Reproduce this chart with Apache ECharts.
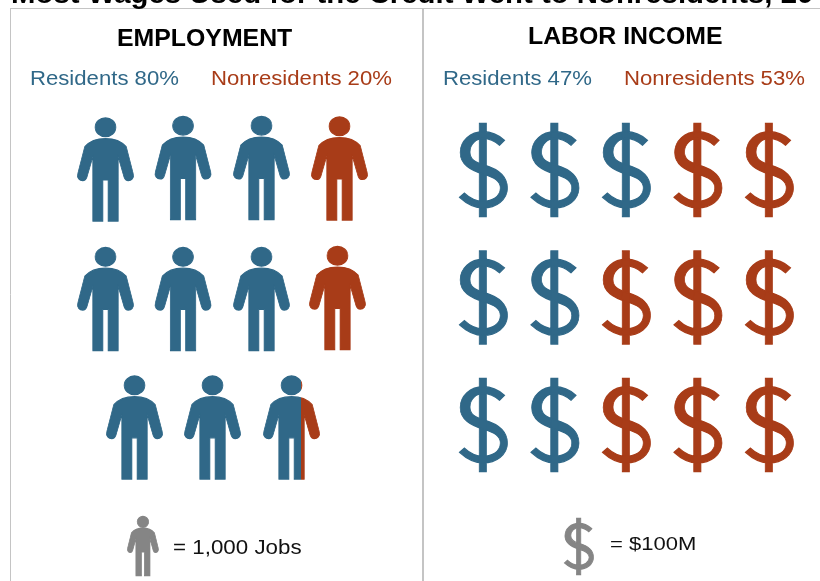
<!DOCTYPE html>
<html><head><meta charset="utf-8">
<style>html,body{margin:0;padding:0;background:#fff;overflow:hidden}#c{width:820px;height:581px}</style>
<script src="https://cdn.jsdelivr.net/npm/echarts@6/dist/echarts.min.js"></script>
</head><body><div id="c"></div>
<script>
// ---- values ----
const headline = 'Most Wages Used for the Credit Went to Nonresidents, 20';
const panelTitles = ['EMPLOYMENT', 'LABOR INCOME'];
const employmentLabels = ['Residents 80%', 'Nonresidents 20%'];
const incomeLabels = ['Residents 47%', 'Nonresidents 53%'];
const keyLabels = ['= 1,000 Jobs', '= $100M'];

// one person per 1,000 jobs: column, row, share of the icon that is nonresident
const peopleCols  = [0, 0.994, 2, 3,   0, 0.994, 2, 2.974,   0.372, 1.372, 2.385];
const peopleRows  = [0, -0.012, -0.012, -0.008,   1.008, 1.008, 1.008, 1,   2.008, 2.008, 2.008];
const peopleShare = [0, 0, 0, 1,   0, 0, 0, 1,   0, 0, 0.33];

// one dollar sign per $100M: column, row, share nonresident
const dollarCols  = [0, 1, 2, 3, 4,   0, 1, 2, 3, 4,   0, 1, 2, 3, 4];
const dollarRows  = [0, 0, 0, 0, 0,   1, 1, 1, 1, 1,   2, 2, 2, 2, 2];
const dollarShare = [0, 0, 0, 1, 1,   0, 0, 1, 1, 1,   0, 0, 1, 1, 1];

const personKey = [0.48, 2.93];
const dollarKey = [1.336, 2.953];

// ---- styling ----
const BLUE = '#306888', RED = '#a83c18', GRAY = '#858585', RULE = '#c4c4c4';
const FONT = '"Liberation Sans", Arial, sans-serif';

const PERSON = 'path://M104 66A32 28 0 1 1 168 66A32 28 0 1 1 104 66Z' +
  'M136 100C105 100 85 110 72 125L51 205C47 218 56 226 66 226C72 226 77 222 79 216L97 155L97 348L128 348L128 224L144 224L144 348L175 348L175 155L193 216C195 222 200 226 206 226C216 226 225 218 221 205L200 125C187 110 167 100 136 100Z';
const DOLLAR = 'path://M165 78C145 60 120 52 100 52C60 52 30 80 30 115C30 150 60 168 100 180C135 190 152 200 152 222C152 250 125 262 100 262C78 262 60 253 43 237L28 250C50 270 75 282 100 282C140 282 174 257 174 222C174 185 145 165 105 153C75 145 60 135 60 113C60 88 80 72 100 72C120 72 135 80 150 93Z' +
  'M110 27L88 27L88 308L110 308Z';

function fillFor(share) {
  if (share === 0) return BLUE;
  if (share === 1) return RED;
  return { type: 'linear', x: 0, y: 0, x2: 1, y2: 0, colorStops: [
    { offset: 0, color: BLUE }, { offset: 1 - share, color: BLUE },
    { offset: 1 - share, color: RED }, { offset: 1, color: RED } ] };
}
function icons(cols, rows, shares, idx, symbol, size) {
  return { type: 'scatter', xAxisIndex: idx, yAxisIndex: idx, symbol, symbolSize: size, silent: true, animation: false,
    data: cols.map((c, i) => ({ value: [c, rows[i]], itemStyle: { color: fillFor(shares[i]), borderColor: fillFor(shares[i]), borderWidth: 1, opacity: 1 } })) };
}
function key(pos, idx, symbol, size) {
  return { type: 'scatter', xAxisIndex: idx, yAxisIndex: idx, symbol, symbolSize: size, silent: true, animation: false,
    itemStyle: { color: GRAY, borderColor: GRAY, borderWidth: 1, opacity: 1 }, data: [pos] };
}
function txt(text, x, y, size, fill, weight, sx) {
  return { type: 'text', x, y, scaleX: sx, silent: true,
    style: { text, fill, font: (weight || 'normal') + ' ' + size + 'px ' + FONT, verticalAlign: 'middle', align: 'left' } };
}
function rule(x1, y1, x2, y2, w) {
  return { type: 'line', silent: true, shape: { x1, y1, x2, y2 }, style: { stroke: RULE, lineWidth: w } };
}
const hiddenX = { type: 'value', min: -1, max: 4, show: false };
const hiddenY = { type: 'value', min: -1, max: 3, inverse: true, show: false };

const chart = echarts.init(document.getElementById('c'), null, { renderer: 'canvas' });
chart.setOption({
  backgroundColor: '#fff',
  animation: false,
  tooltip: { show: false },
  grid: [
    { left: 27.5, width: 390, top: 41, height: 514 },
    { left: 412, width: 357.5, top: 42.5, height: 510 }
  ],
  xAxis: [ { ...hiddenX, gridIndex: 0 }, { ...hiddenX, gridIndex: 1 } ],
  yAxis: [ { ...hiddenY, gridIndex: 0 }, { ...hiddenY, gridIndex: 1 } ],
  series: [
    icons(peopleCols, peopleRows, peopleShare, 0, PERSON, [56, 103]),
    icons(dollarCols, dollarRows, dollarShare, 1, DOLLAR, [48, 93]),
    key(personKey, 0, PERSON, [31, 59]),
    key(dollarKey, 1, DOLLAR, [29, 56])
  ],
  graphic: [
    rule(10, 8.5, 820, 8.5, 1),
    rule(10.5, 8, 10.5, 581, 1),
    rule(423, 8, 423, 581, 2),
    txt(headline, 11, -4, 27, '#000', 'bold', 1.087),
    txt(panelTitles[0], 117, 39.5, 23, '#000', 'bold', 1.08),
    txt(panelTitles[1], 528, 38, 23, '#000', 'bold', 1.08),
    txt(employmentLabels[0], 30, 79, 20.5, BLUE, 'normal', 1.08),
    txt(employmentLabels[1], 211, 79, 20.5, RED, 'normal', 1.08),
    txt(incomeLabels[0], 443, 79, 20.5, BLUE, 'normal', 1.08),
    txt(incomeLabels[1], 624, 79, 20.5, RED, 'normal', 1.08),
    txt(keyLabels[0], 173, 548, 20.5, '#111', 'normal', 1.09),
    txt(keyLabels[1], 610, 544.5, 18.5, '#111', 'normal', 1.19)
  ]
});
</script></body></html>
